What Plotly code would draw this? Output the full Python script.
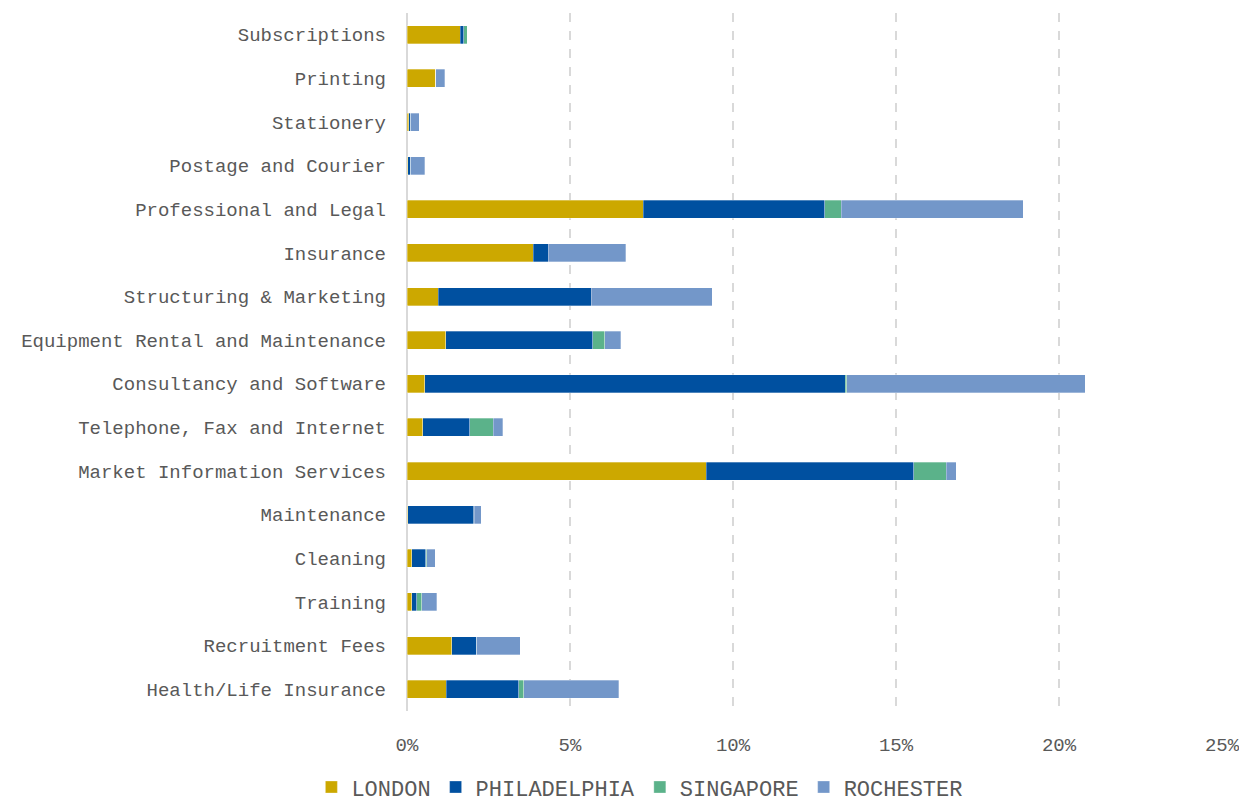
import plotly.graph_objects as go

categories = [
    "Subscriptions", "Printing", "Stationery", "Postage and Courier",
    "Professional and Legal", "Insurance", "Structuring & Marketing",
    "Equipment Rental and Maintenance", "Consultancy and Software",
    "Telephone, Fax and Internet", "Market Information Services",
    "Maintenance", "Cleaning", "Training", "Recruitment Fees",
    "Health/Life Insurance",
]

london = [1.64, 0.88, 0.06, 0.02, 7.25, 3.88, 0.96, 1.19, 0.55, 0.48, 9.18, 0.02, 0.15, 0.14, 1.37, 1.20]
philadelphia = [0.10, 0.00, 0.05, 0.10, 5.56, 0.45, 4.69, 4.51, 12.89, 1.44, 6.37, 2.02, 0.43, 0.16, 0.77, 2.23]
singapore = [0.11, 0.00, 0.00, 0.00, 0.51, 0.00, 0.00, 0.36, 0.05, 0.72, 0.99, 0.03, 0.02, 0.15, 0.00, 0.15]
rochester = [0.00, 0.28, 0.26, 0.42, 5.58, 2.38, 3.72, 0.49, 7.31, 0.30, 0.31, 0.20, 0.27, 0.47, 1.34, 2.91]

series_names = ["LONDON", "PHILADELPHIA", "SINGAPORE", "ROCHESTER"]
series_values = [london, philadelphia, singapore, rochester]
colors = ["#CCA800", "#0050A0", "#5BB28A", "#7397C9"]

tick_vals = [0, 5, 10, 15, 20, 25]
tick_text = ["0%", "5%", "10%", "15%", "20%", "25%"]

FONT = "Liberation Mono"
TXT = "#595959"

fig = go.Figure()
for name, vals, col in zip(series_names, series_values, colors):
    fig.add_trace(go.Bar(
        y=categories, x=vals, name=name, orientation="h",
        marker=dict(color=col, line=dict(color="rgba(255,255,255,0.5)", width=0.6)),
    ))

fig.update_layout(
    barmode="stack",
    bargap=0.59,
    width=1239, height=800,
    margin=dict(l=399, r=25, t=5, b=97),
    plot_bgcolor="white", paper_bgcolor="white",
    font=dict(family=FONT, color=TXT, size=19),
    legend=dict(
        orientation="h", xref="container", yref="container",
        x=0.51, xanchor="center", y=0.026, yanchor="middle",
        font=dict(family=FONT, size=22, color=TXT),
        traceorder="normal", itemwidth=30, tracegroupgap=0,
    ),
    xaxis=dict(
        range=[0, 25], tickvals=tick_vals, ticktext=tick_text,
        showgrid=True, gridcolor="#D9D9D9", griddash="dash", gridwidth=2,
        zeroline=True, zerolinecolor="#D9D9D9", zerolinewidth=2,
        tickfont=dict(family=FONT, size=19, color=TXT),
        ticklabelstandoff=20, showline=False,
    ),
    yaxis=dict(
        autorange="reversed", categoryorder="array", categoryarray=categories,
        tickfont=dict(family=FONT, size=19, color=TXT),
        ticklabelstandoff=20, showgrid=False, zeroline=False, showline=False,
    ),
)

fig.write_html("out.html")
